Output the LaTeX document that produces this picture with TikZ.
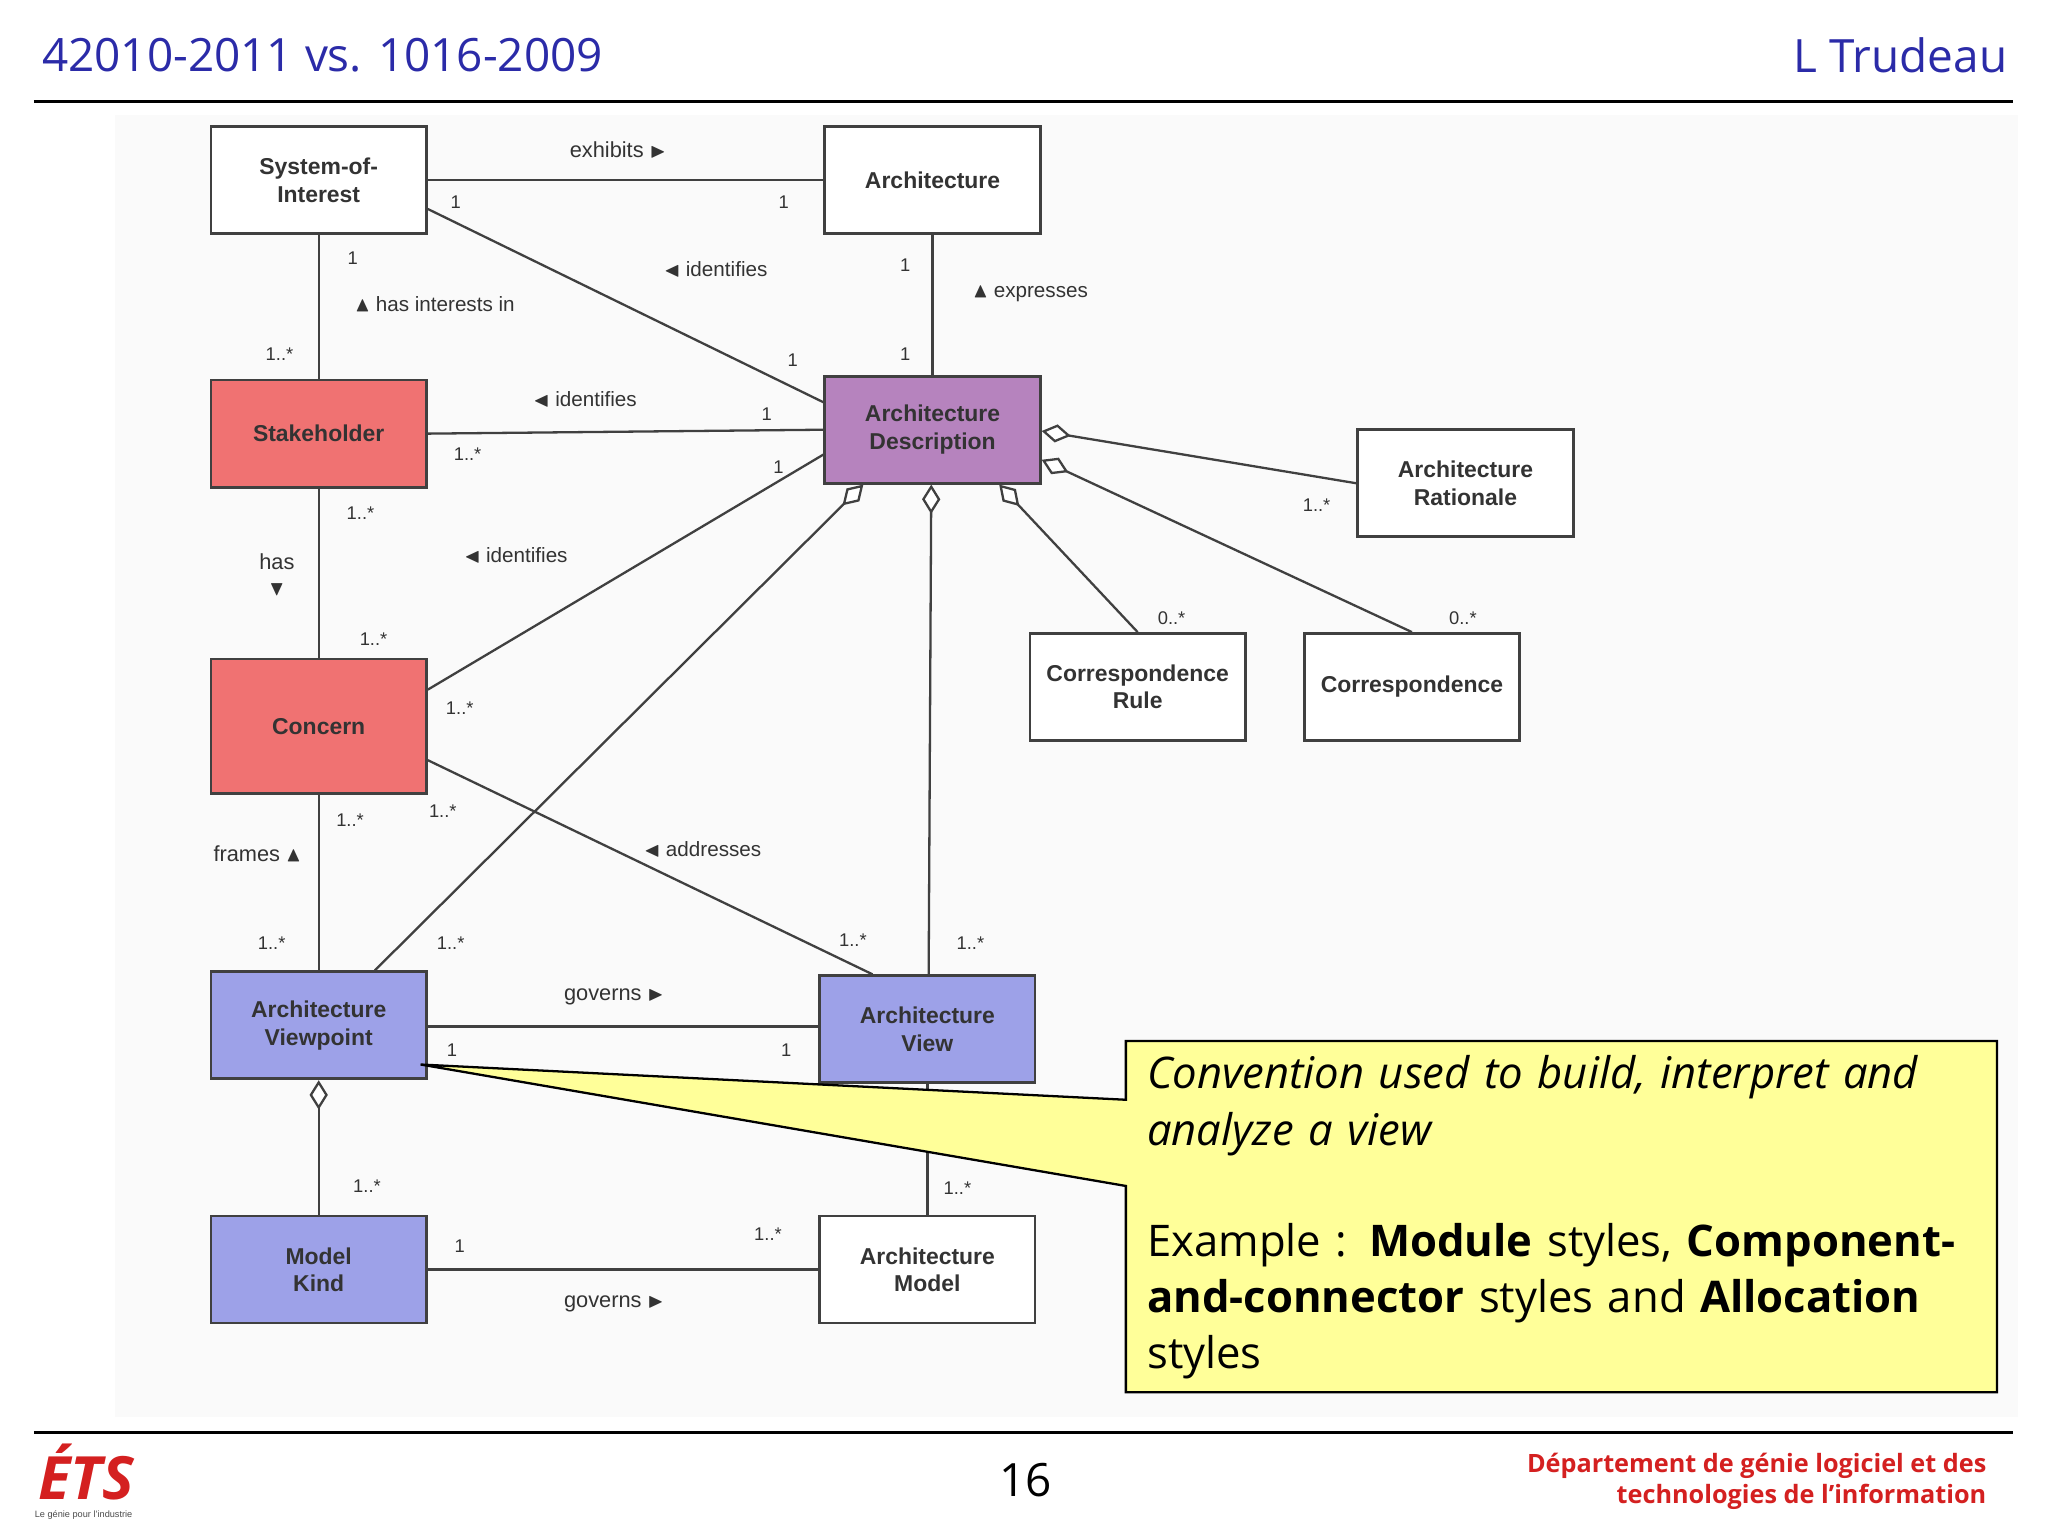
\documentclass[tikz,border=0pt]{standalone}
\usepackage{amssymb}
\usepackage{fontspec}
\setmainfont{Liberation Sans}
\newfontfamily\hdr{Open Sans}
\usetikzlibrary{arrows.meta}
\definecolor{hblue}{HTML}{2B2BA8}
\definecolor{redf}{HTML}{F07272}
\definecolor{purf}{HTML}{B683BE}
\definecolor{bluf}{HTML}{9DA1E8}
\definecolor{yelf}{HTML}{FFFF99}
\definecolor{ftred}{HTML}{D42020}
\tikzset{
 cls/.style={draw=black!75,line width=1.2pt,minimum width=3.3cm,minimum height=1.64cm,align=center,font=\bfseries\fontsize{10}{12}\selectfont,text=black!80,fill=white},
 mult/.style={font=\fontsize{8}{9}\selectfont,text=black!80},
 lab/.style={font=\fontsize{9.5}{11}\selectfont,text=black!80,align=center},
 ln/.style={draw=black!75,line width=1pt},
 agg/.style={ln,{Diamond[open,fill=white,length=0.45cm,width=0.28cm]}-},
}
\begin{document}
\begin{tikzpicture}[x=0.02cm,y=-0.02cm]
\useasboundingbox[fill=white] (0,0) rectangle (1568,1176);
\fill[black!2] (88,88) rectangle (1545,1085);
% header
\node[anchor=west,text=hblue,font=\hdr\fontsize{20}{24}\selectfont] (t1) at (26,42) {42010-2011 vs. 1016-2009};
\node[anchor=east,text=hblue,font=\hdr\fontsize{20}{24}\selectfont] (t2) at (1543,42) {L Trudeau};
\draw[line width=1.2pt] (26,78) -- (1541,78);
\draw[line width=1.2pt] (26,1097) -- (1541,1097);
% classes
\node[cls] (soi) at (244,138) {System-of-\\Interest};
\node[cls] (arch) at (714,138) {Architecture};
\node[cls,fill=redf] (stk) at (244,332) {Stakeholder};
\node[cls,fill=purf] (ad) at (714,329) {Architecture\\Description};
\node[cls] (ar) at (1122,370) {Architecture\\Rationale};
\node[cls,fill=redf,minimum height=2.06cm] (con) at (244,556) {Concern};
\node[cls] (cr) at (871,526) {Correspondence\\Rule};
\node[cls] (cor) at (1081,526) {Correspondence};
\node[cls,fill=bluf] (avp) at (244,785) {Architecture\\Viewpoint};
\node[cls,fill=bluf] (av) at (710,788) {Architecture\\View};
\node[cls,fill=bluf] (mk) at (244,972) {Model\\Kind};
\node[cls] (am) at (710,972) {Architecture\\Model};
% edges
\draw[ln] (soi.east) -- (arch.west);
\draw[ln] (soi.east |- 0,160) -- (ad.west |- 0,308);
\draw[ln] (soi) -- (stk);
\draw[ln] (arch) -- (ad);
\draw[ln] (stk.east) -- (ad.west |- 0,329);
\draw[ln] (stk) -- (con);
\draw[ln] (con.east |- 0,528) -- (ad.west |- 0,348);
\draw[agg] (ad.east |- 0,330) -- (ar.west |- 0,370);
\draw[agg] (ad.east |- 0,352) -- (cor.north);
\draw[agg] (765,371) -- (cr.north);
\draw[agg] (713,371) -- (av.north -| 711,0);
\draw[agg] (661,371) -- (avp.north -| 287,0);
\draw[ln] (con) -- (avp);
\draw[ln] (con.east |- 0,582) -- (av.north -| 668,0);
\draw[ln] (avp.east |- 0,786) -- (av.west |- 0,786);
\draw[agg] (avp.south) -- (mk.north);
\draw[ln] (av) -- (am);
\draw[ln] (mk.east) -- (am.west);
% labels
\node[lab] (l1) at (473,115) {exhibits \small$\blacktriangleright$};
\node[mult] at (349,155) {1}; \node[mult] at (600,155) {1};
\node[lab] (l2) at (548,206) {\small$\blacktriangleleft$ identifies};
\node[mult] at (607,276) {1};
\node[mult] at (270,198) {1};
\node[lab] (l3) at (333,233) {\small$\blacktriangle$ has interests in};
\node[mult] at (214,271) {1..*};
\node[mult] at (693,203) {1}; \node[mult] at (693,271) {1};
\node[lab] (l4) at (789,225) {\small$\blacktriangle$ expresses};
\node[lab] (l5) at (448,306) {\small$\blacktriangleleft$ identifies};
\node[mult] at (587,317) {1}; \node[mult] at (358,348) {1..*};
\node[mult] at (276,393) {1..*};
\node[lab] (l6) at (212,440) {has\\\small$\blacktriangledown$};
\node[mult] at (286,489) {1..*};
\node[lab] (l7) at (395,425) {\small$\blacktriangleleft$ identifies};
\node[mult] at (596,358) {1}; \node[mult] at (352,542) {1..*};
\node[mult] at (1008,387) {1..*};
\node[mult] at (1120,473) {0..*};
\node[mult] at (897,473) {0..*};
\node[mult] at (743,722) {1..*};
\node[mult] at (345,722) {1..*};
\node[mult] at (268,628) {1..*};
\node[lab] (l8) at (197,654) {frames \small$\blacktriangle$};
\node[mult] at (208,722) {1..*};
\node[lab] (l9) at (538,650) {\small$\blacktriangleleft$ addresses};
\node[mult] at (339,621) {1..*}; \node[mult] at (653,720) {1..*};
\node[lab] (l10) at (470,763) {governs \small$\blacktriangleright$};
\node[mult] at (346,804) {1}; \node[mult] at (602,804) {1};
\node[mult] at (281,908) {1..*};
\node[mult] at (733,910) {1..*};
\node[mult] at (352,954) {1}; \node[mult] at (588,945) {1..*};
\node[lab] (l11) at (470,998) {governs \small$\blacktriangleright$};
% callout
\coordinate (tip) at (322,815);
\draw[line width=1pt,fill=yelf] (862,797) -- (1529,797) -- (1529,1066) -- (862,1066) -- (862,908) -- (tip) -- (862,842) -- cycle;
\node[anchor=north west,text width=12.9cm,align=left,font=\hdr\fontsize{19}{24.5}\selectfont,inner sep=0pt] (co) at (878,808)
{\textit{Convention used to build, interpret and analyze a view}\\[24pt]
Example : \textbf{Module} styles, \textbf{Component-and-connector} styles and \textbf{Allocation} styles};
% footer
\node[text=ftred,font=\hdr\bfseries\itshape\fontsize{26}{28}\selectfont] (logo) at (66,1127) {ÉTS};
\node[font=\fontsize{4}{5}\selectfont,text=black!70] (lg2) at (64,1160) {Le génie pour l'industrie};
\node[font=\hdr\fontsize{20}{24}\selectfont] (pg) at (785,1133) {16};
\node[anchor=east,align=right,text=ftred,font=\hdr\bfseries\fontsize{11}{13.5}\selectfont] (ft) at (1527,1134) {Département de génie logiciel et des\\technologies de l’information};
\end{tikzpicture}
\end{document}
